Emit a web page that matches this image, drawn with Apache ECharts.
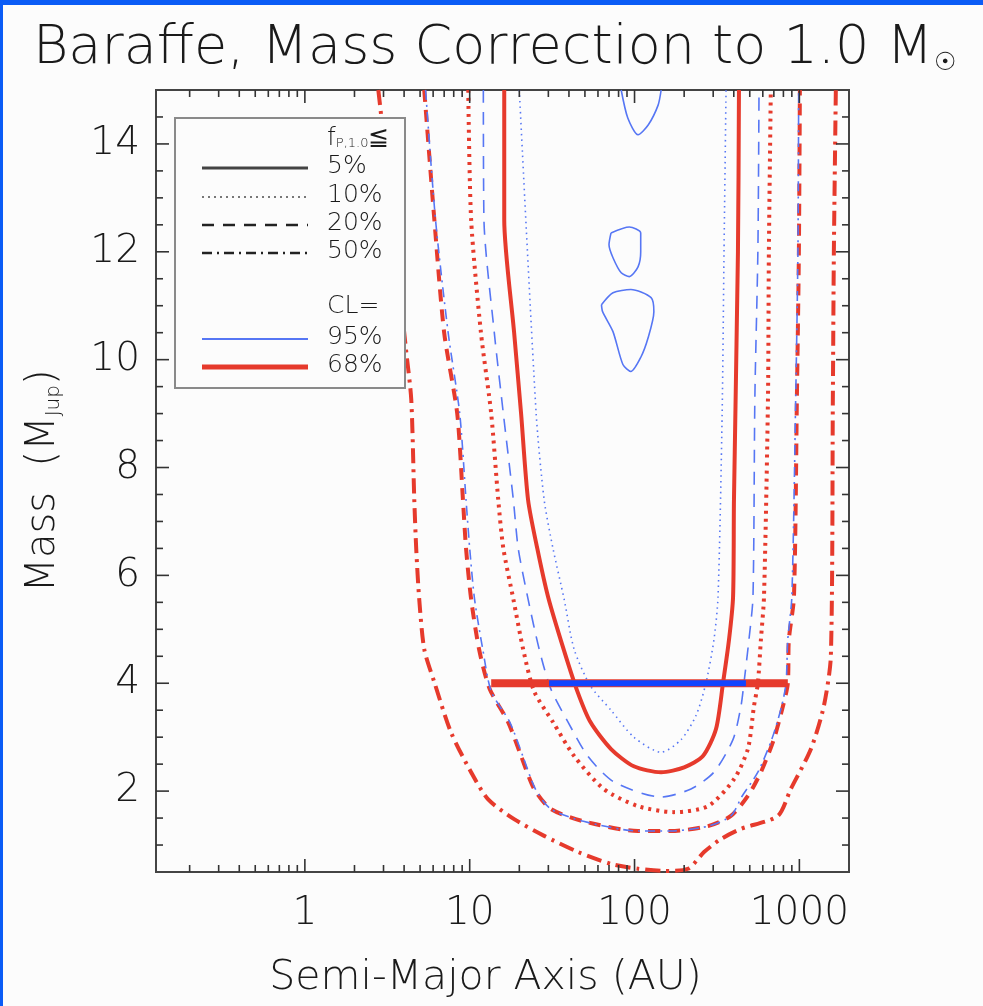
<!DOCTYPE html>
<html>
<head>
<meta charset="utf-8">
<script src="https://cdn.jsdelivr.net/npm/echarts@6/dist/echarts.min.js"></script>
<style>
html,body{margin:0;padding:0;background:#fcfcfc;}
#c{width:983px;height:1006px;}
</style>
</head>
<body>
<div id="c"></div>
<script>
// ---- axis ranges and tick labels ----
const xMin = 0.125, xMax = 2000, yMin = 0.5, yMax = 15;
const xTickLabels = [1, 10, 100, 1000];
const xMinorTicks = [0.2,0.3,0.4,0.5,0.6,0.7,0.8,0.9, 2,3,4,5,6,7,8,9, 20,30,40,50,60,70,80,90, 200,300,400,500,600,700,800,900];
const yTickLabels = [2, 4, 6, 8, 10, 12, 14];
const yMinorTicks = [1,1.5,2.5,3,3.5,4.5,5,5.5,6.5,7,7.5,8.5,9,9.5,10.5,11,11.5,12.5,13,13.5,14.5];

// ---- legend texts ----
const fLevels = ['5%', '10%', '20%', '50%'];
const clLevels = ['95%', '68%'];

// ---- contours, [semi-major axis (AU), mass (MJup)] ----
// 68% CL
const cl68_f05 = [[16.2,15],[16.2,12.6],[18.6,10.5],[20.5,9.0],[22.6,7.4],[25.7,6.5],[29.9,5.6],[37.4,4.6],[45,3.85],[54,3.28],[72,2.78],[99,2.46],[145,2.35],[200,2.44],[260,2.65],[312,3.15],[344,4.0],[374,4.8],[396,5.6],[401,7.4],[424,12],[430,15]];
const cl68_f10 = [[9.8,15],[10.2,12.6],[11.7,10.5],[13.5,9.0],[14.9,7.4],[16,6.5],[18.4,5.56],[21.1,4.63],[24.6,3.85],[32,3.28],[43,2.65],[65,2.04],[105,1.72],[173,1.61],[279,1.72],[401,2.22],[487,2.78],[530,3.57],[560,4.0],[584,4.8],[610,5.6],[645,9.3],[653,12],[671,15]];
const cl68_f20 = [[5.3,15],[6.1,12.6],[7.0,10.5],[8.4,9.0],[9.1,7.4],[9.5,6.5],[10.2,5.56],[11.4,4.63],[13.2,3.9],[17.1,3.28],[20.5,2.65],[24.6,2.04],[31,1.67],[49,1.44],[105,1.26],[166,1.26],[279,1.35],[384,1.54],[487,1.91],[584,2.35],[700,2.96],[794,3.57],[851,4.0],[863,4.8],[927,5.6],[966,9.3],[993,12],[1007,15]];
const cl68_f50 = [[2.79,15],[2.91,14.5],[4.12,10.15],[4.42,9.26],[4.61,7.41],[4.74,6.48],[4.94,5.56],[5.3,4.63],[6.1,4.02],[7.7,3.09],[10.2,2.35],[12.9,1.85],[18.6,1.48],[28.3,1.17],[45.5,0.87],[72,0.65],[105,0.56],[151,0.52],[211,0.56],[264,0.87],[334,1.11],[442,1.30],[741,1.54],[887,2.04],[1175,2.78],[1406,3.57],[1552,4.5],[1596,9.26],[1619,12],[1664,15]];
// 95% CL
const cl95_f05_a = [[83,15],[91,14.48],[105,14.17],[121,14.35],[139,14.72],[145,15]];
const cl95_f05_b = [[72,12.35],[93,12.46],[109,12.35],[109,12.0],[105,11.72],[93,11.54],[83,11.61],[74,11.89],[70,12.13],[72,12.35]];
const cl95_f05_c = [[63,11.02],[74,11.24],[95,11.3],[126,11.15],[131,10.89],[121,10.41],[109,10.04],[95,9.78],[85,9.91],[74,10.52],[64,10.89],[63,11.02]];
const cl95_f10 = [[20,15],[25.3,9.0],[28.3,7.4],[32,6.5],[37.4,5.56],[43,4.63],[54,3.95],[72,3.5],[99,3.0],[145,2.72],[191,2.95],[236,3.4],[271,4.0],[303,4.8],[321,5.6],[340,9.0],[349,12],[359,15]];
const cl95_f20 = [[12.1,15],[12.2,12.6],[14.1,10.5],[16,9.0],[18.4,7.4],[19.7,6.5],[22.6,5.56],[26.4,4.63],[31,3.9],[39.5,3.28],[52,2.65],[75,2.17],[145,1.89],[220,2.04],[303,2.35],[396,2.96],[442,3.57],[461,4.0],[494,4.8],[523,5.6],[537,9.3],[560,12],[569,15]];
const cl95_f50 = [[5.4,15],[6.2,12.6],[7.4,10.5],[8.7,9.0],[9.5,7.4],[10,6.5],[10.7,5.56],[12,4.63],[13.5,3.85],[17.5,3.28],[21,2.65],[25,2.04],[31,1.67],[49,1.44],[105,1.26],[166,1.26],[279,1.35],[384,1.54],[450,1.91],[560,2.35],[680,2.96],[780,3.57],[830,4.0],[850,4.8],[900,5.6],[950,9.3],[980,12],[990,15]];
// ranges at 4 MJup
const bar68 = [[13.5,4],[851,4]];
const bar95 = [[30.3,4],[474,4]];

// ---- styles ----
const RED = '#e63a2c', BLUE = '#5676f4', BLUEBAR = '#1244ff', INK = '#1a1a1a';
const FONT = "'DejaVu Sans',sans-serif";
const FW = 200;
const DOT_R = [3,5], DASH_R = [12,8], DASHDOT_R = [15,6,3,6];
const DOT_B = [1.5,4], DASH_B = [13,9], DASHDOT_B = [10,5,2,5];

function contour(data, color, width, type, z, smooth) {
  return {type:'line', data:data, showSymbol:false, symbol:'none', silent:true, clip:true, z:z||3,
    smooth: smooth === undefined ? 0.25 : smooth,
    lineStyle:{color:color, width:width, type:type, cap:'butt', join:'round'}, animation:false};
}
function xTicks(values, len) {
  return {type:'custom', silent:true, clip:false, z:6, animation:false,
    data: values.map(v => [v, yMin]),
    renderItem: (p, api) => {
      const v = api.value(0);
      const b = api.coord([v, yMin]), t = api.coord([v, yMax]);
      const st = {stroke:'#333', lineWidth:1.6};
      return {type:'group', children:[
        {type:'line', shape:{x1:b[0], y1:b[1], x2:b[0], y2:b[1]-len}, style:st},
        {type:'line', shape:{x1:t[0], y1:t[1], x2:t[0], y2:t[1]+len}, style:st}]};
    }};
}
function yTicks(values, len) {
  return {type:'custom', silent:true, clip:false, z:6, animation:false,
    data: values.map(v => [xMin, v]),
    renderItem: (p, api) => {
      const v = api.value(1);
      const l = api.coord([xMin, v]), r = api.coord([xMax, v]);
      const st = {stroke:'#333', lineWidth:1.6};
      return {type:'group', children:[
        {type:'line', shape:{x1:l[0], y1:l[1], x2:l[0]+len, y2:l[1]}, style:st},
        {type:'line', shape:{x1:r[0], y1:r[1], x2:r[0]-len, y2:r[1]}, style:st}]};
    }};
}

// ---- legend (graphic) ----
const LX = 175, LY = 118, LW = 230, LH = 270;
const lineX1 = 202, lineX2 = 308, textX = 327;
const rowsF = [168, 197, 225, 253];
const rowsC = [339, 367];
const legendStyles = [
  {stroke:'#444', lineWidth:3, lineDash:null},
  {stroke:'#777', lineWidth:2, lineDash:[2,4]},
  {stroke:'#222', lineWidth:2.5, lineDash:[12,9]},
  {stroke:'#222', lineWidth:2.5, lineDash:[10,5,2,5]}
];
const clStyles = [
  {stroke:BLUE, lineWidth:2},
  {stroke:RED, lineWidth:5}
];
const txt = (t, x, y) => ({type:'text', x:x, y:y, z:101,
  style:{text:t, fontSize:25, fontFamily:FONT, fontWeight:FW, fill:INK, verticalAlign:'middle'}});
const legendEls = [
  {type:'rect', shape:{x:LX, y:LY, width:LW, height:LH}, style:{fill:'#fcfcfc', stroke:'#8a8a8a', lineWidth:2}, z:100},
  {type:'text', x:textX, y:138, z:101, style:{text:'{f|f}{s|P,1.0}{f|≦}', verticalAlign:'middle', fill:INK,
    rich:{f:{fontSize:25, fontFamily:FONT, fontWeight:FW, fill:INK}, s:{fontSize:13, fontFamily:FONT, fontWeight:FW, fill:INK, verticalAlign:'bottom', padding:[12,0,0,0]}}}},
  txt('CL=', textX, 306)
];
fLevels.forEach((t, i) => {
  legendEls.push({type:'line', z:101, shape:{x1:lineX1, y1:rowsF[i], x2:lineX2, y2:rowsF[i]}, style:legendStyles[i]});
  legendEls.push(txt(t, textX, rowsF[i]-2));
});
clLevels.forEach((t, i) => {
  legendEls.push({type:'line', z:101, shape:{x1:lineX1, y1:rowsC[i], x2:lineX2, y2:rowsC[i]}, style:clStyles[i]});
  legendEls.push(txt(t, textX, rowsC[i]-2));
});
// blue page frame
legendEls.push({type:'rect', shape:{x:0, y:0, width:983, height:5}, style:{fill:'#0b5cf6'}, z:120});
legendEls.push({type:'rect', shape:{x:0, y:0, width:3, height:1006}, style:{fill:'#0b5cf6'}, z:120});

const chart = echarts.init(document.getElementById('c'), null, {renderer:'canvas'});
chart.setOption({
  backgroundColor:'#fcfcfc',
  animation:false,
  title:{text:'{t|Baraffe, Mass Correction to 1.0 M}{s|☉}', left:33, top:22, padding:0,
    textStyle:{fontWeight:'normal', rich:{
      t:{fontSize:54, fontFamily:FONT, fontWeight:FW, color:INK},
      s:{fontSize:25, fontFamily:FONT, fontWeight:FW, color:INK, verticalAlign:'bottom', padding:[0,0,0,1]}}}},
  grid:{left:156, right:134, top:90, bottom:134, show:true, borderColor:'#444', borderWidth:2, backgroundColor:'transparent'},
  xAxis:{type:'log', logBase:10, min:xMin, max:xMax,
    name:'Semi-Major Axis (AU)', nameLocation:'middle', nameGap:86,
    nameTextStyle:{fontSize:41, fontFamily:FONT, fontWeight:FW, color:INK, padding:[0,34,0,0]},
    axisLine:{show:false}, axisTick:{show:false}, splitLine:{show:false}, minorTick:{show:false},
    axisLabel:{fontSize:39, fontFamily:FONT, fontWeight:FW, color:INK, margin:22,
      formatter: v => { const l = Math.log10(v); return (Math.abs(l - Math.round(l)) < 1e-6 && xTickLabels.indexOf(Math.round(v)) >= 0) ? String(Math.round(v)) : ''; }}},
  yAxis:{type:'value', min:yMin, max:yMax, interval:0.5,
    name:'Mass  (M{s|Jup})', nameLocation:'middle', nameGap:92, nameRotate:90,
    nameTextStyle:{fontSize:40, fontFamily:FONT, fontWeight:FW, color:INK,
      rich:{s:{fontSize:20, fontFamily:FONT, fontWeight:FW, color:INK, verticalAlign:'bottom', padding:[10,0,0,0]}}},
    axisLine:{show:false}, axisTick:{show:false}, splitLine:{show:false},
    axisLabel:{fontSize:39, fontFamily:FONT, fontWeight:FW, color:INK, margin:16,
      formatter: v => yTickLabels.indexOf(v) >= 0 ? String(v) : ''}},
  graphic: legendEls,
  series:[
    contour(cl95_f05_a, BLUE, 1.6, 'solid'),
    contour(cl95_f05_b, BLUE, 1.6, 'solid'),
    contour(cl95_f05_c, BLUE, 1.6, 'solid'),
    contour(cl95_f10, BLUE, 1.6, DOT_B),
    contour(cl95_f20, BLUE, 1.6, DASH_B),
    contour(cl68_f05, RED, 4, 'solid'),
    contour(cl68_f10, RED, 4, DOT_R),
    contour(cl68_f20, RED, 4, DASH_R),
    contour(cl68_f50, RED, 4, DASHDOT_R),
    contour(cl95_f50, BLUE, 1.6, DASHDOT_B, 4),
    contour(bar68, RED, 8, 'solid', 7, false),
    contour(bar95, BLUEBAR, 6, 'solid', 8, false),
    xTicks(xTickLabels, 13),
    xTicks(xMinorTicks, 7),
    yTicks(yTickLabels, 13),
    yTicks(yMinorTicks, 7)
  ]
});
</script>
</body>
</html>
